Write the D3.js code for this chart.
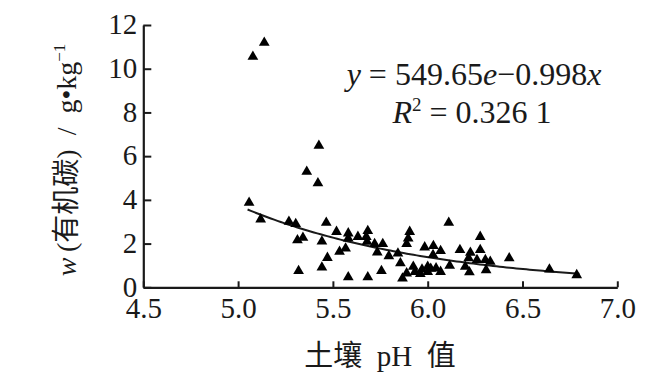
<!DOCTYPE html>
<html>
<head>
<meta charset="utf-8">
<script src="https://cdn.jsdelivr.net/npm/d3@7"></script>
<style>
  html, body { margin: 0; padding: 0; background: #fff; }
  svg { display: block; }
  .serif { font-family: "Liberation Serif", "Times New Roman", serif; }
  .cjk { font-family: "Noto Sans CJK SC", sans-serif; }
</style>
</head>
<body>
<svg id="chart" width="666" height="392"></svg>
<script>
// ---- data ----
const phValues = [
  5.078, 5.138, 5.058, 5.119, 5.362, 5.426, 5.421,
  5.268, 5.304, 5.313, 5.342, 5.319, 5.465, 5.442, 5.471, 5.442,
  5.519, 5.535, 5.567, 5.581, 5.581, 5.632, 5.684, 5.676, 5.680,
  5.720, 5.734, 5.763, 5.795, 5.843, 5.856, 5.756, 5.684, 5.581,
  5.905, 5.897, 5.889, 5.867, 5.924, 5.933, 5.889, 5.970, 5.961, 5.984,
  6.000, 6.030, 6.068, 6.028, 6.111, 6.000, 6.044, 6.068, 6.016,
  6.116, 6.170, 6.225, 6.216, 6.260, 6.277, 6.277, 6.304, 6.330,
  6.198, 6.220, 6.308, 6.430, 6.642, 6.786
];
const carbonValues = [
  10.55, 11.19, 3.87, 3.11, 5.29, 6.48, 4.76,
  3.00, 2.90, 2.16, 2.27, 0.75, 2.96, 2.10, 1.35, 0.91,
  2.54, 1.63, 1.78, 2.47, 2.24, 2.31, 2.58, 2.31, 2.09,
  1.98, 1.60, 1.98, 1.43, 1.55, 1.10, 0.75, 0.46, 0.46,
  2.54, 2.24, 1.98, 0.41, 0.94, 0.71, 0.64, 0.82, 0.61, 1.83,
  0.94, 1.89, 1.66, 1.48, 2.96, 0.71, 0.87, 0.71, 0.85,
  0.99, 1.71, 1.58, 1.33, 1.25, 2.31, 1.71, 1.25, 1.17,
  0.94, 0.69, 0.79, 1.33, 0.82, 0.56
];
const xTicks = [4.5, 5.0, 5.5, 6.0, 6.5, 7.0];
const yTicks = [0, 2, 4, 6, 8, 10, 12];
// fitted curve y = a * e^(b x), as printed in the chart
const fitCoef = [549.65, -0.998];
const fitRange = [5.05, 6.8];

// ---- drawing ----
const svg = d3.select("#chart");
const plotLeft = 143.3, plotRight = 617.3, plotTop = 25, plotBottom = 287.3;
const x = d3.scaleLinear().domain([4.5, 7.0]).range([plotLeft, plotRight]);
const y = d3.scaleLinear().domain([0, 12]).range([plotBottom, plotTop]);

const ink = "#1a1a1a";

// axes
const xAxis = d3.axisBottom(x).tickValues(xTicks).tickFormat(d3.format(".1f"))
  .tickSizeInner(-6).tickSizeOuter(0).tickPadding(10);
const yAxis = d3.axisLeft(y).tickValues(yTicks).tickFormat(d3.format("d"))
  .tickSizeInner(-8).tickSizeOuter(0).tickPadding(6);

const gx = svg.append("g").attr("transform", `translate(0,${plotBottom})`).call(xAxis);
const gy = svg.append("g").attr("transform", `translate(${plotLeft},0)`).call(yAxis);
[gx, gy].forEach(g => {
  g.attr("font-family", null).attr("font-size", null);
  g.selectAll("path.domain").attr("stroke", ink).attr("stroke-width", 2.2);
  g.selectAll(".tick line").attr("stroke", ink).attr("stroke-width", 2);
  g.selectAll(".tick text").attr("class", "serif")
    .style("font-size", "29px").attr("fill", ink);
});
gy.selectAll(".tick text").attr("dy", "0.3em");

// fitted curve
const curvePts = d3.range(0, 101).map(i => {
  const xv = fitRange[0] + (fitRange[1] - fitRange[0]) * i / 100;
  return [xv, fitCoef[0] * Math.exp(fitCoef[1] * xv)];
});
svg.append("path")
  .datum(curvePts)
  .attr("fill", "none")
  .attr("stroke", ink)
  .attr("stroke-width", 2)
  .attr("d", d3.line().x(d => x(d[0])).y(d => y(d[1])));

// points
const pts = phValues.map((p, i) => ({ x: p, y: carbonValues[i] }));
const tri = d3.symbol().type(d3.symbolTriangle).size(50);
svg.append("g").selectAll("path")
  .data(pts).join("path")
  .attr("d", tri)
  .attr("fill", "#000")
  .attr("transform", d => `translate(${x(d.x)},${y(d.y)})`);

// equation
const eq1 = svg.append("text").attr("class", "serif").attr("x", 474).attr("y", 85)
  .attr("text-anchor", "middle").style("font-size", "32px").attr("fill", ink);
eq1.append("tspan").style("font-style", "italic").text("y");
eq1.append("tspan").text(" = 549.65");
eq1.append("tspan").style("font-style", "italic").text("e");
eq1.append("tspan").text("\u22120.998");
eq1.append("tspan").style("font-style", "italic").text("x");

const eq2 = svg.append("text").attr("class", "serif").attr("x", 472).attr("y", 123)
  .attr("text-anchor", "middle").style("font-size", "32px").attr("fill", ink);
eq2.append("tspan").style("font-style", "italic").text("R");
eq2.append("tspan").style("font-size", "19px").attr("dy", -12).text("2");
eq2.append("tspan").attr("dy", 12).text(" = 0.326 1");

// x axis title
const xt = svg.append("text").attr("x", 380).attr("y", 366)
  .attr("text-anchor", "middle").style("font-size", "29px").attr("fill", ink);
xt.append("tspan").attr("class", "cjk").text("土壤");
xt.append("tspan").attr("class", "serif").text("\u2002pH\u2002");
xt.append("tspan").attr("class", "cjk").text("值");

// y axis title
const yt = svg.append("text")
  .attr("transform", "translate(76,160) rotate(-90)")
  .attr("text-anchor", "middle").style("font-size", "28px").attr("fill", ink);
yt.append("tspan").attr("class", "serif").style("font-style", "italic").text("w");
yt.append("tspan").attr("class", "serif").text("\u2009(");
yt.append("tspan").attr("class", "cjk").text("有机碳");
yt.append("tspan").attr("class", "serif").text(")\u2002/\u2002g\u2022kg");
yt.append("tspan").attr("class", "serif").style("font-size", "17px").attr("dy", -11).text("\u22121");
</script>
</body>
</html>
